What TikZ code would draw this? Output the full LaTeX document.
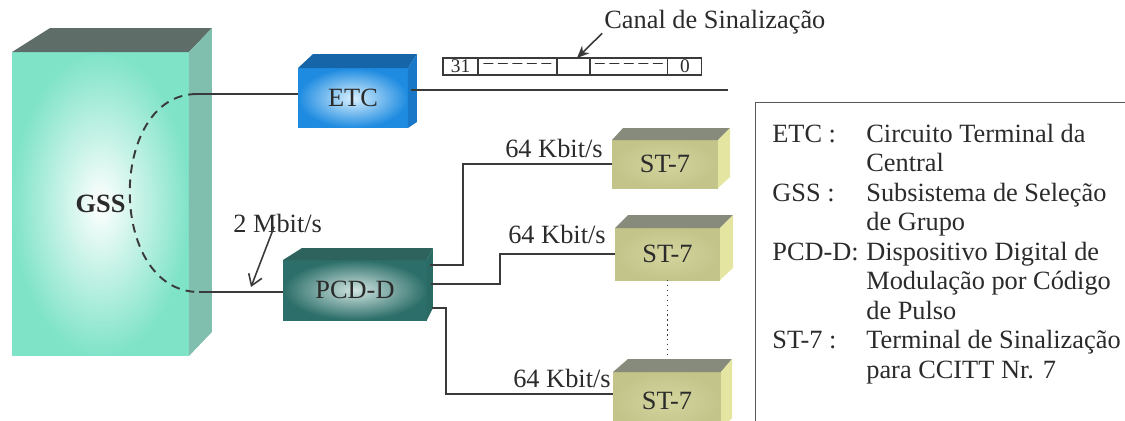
\documentclass[tikz,border=0pt]{standalone}
\usepackage{fontspec}
\setmainfont{Liberation Serif}
\usetikzlibrary{positioning,calc,arrows.meta}

\definecolor{ink}{HTML}{2B2B2B}
\definecolor{wirecol}{HTML}{3A3A3A}
\definecolor{gssFront}{HTML}{7FE3C8}
\definecolor{gssTop}{HTML}{5F6D69}
\definecolor{gssSide}{HTML}{80BFAE}
\definecolor{etcFront}{HTML}{1E8BE0}
\definecolor{etcGlow}{HTML}{D8F0FF}
\definecolor{etcTop}{HTML}{1565A8}
\definecolor{etcSide}{HTML}{1A78C8}
\definecolor{pcdFront}{HTML}{2C6E69}
\definecolor{pcdGlow}{HTML}{D0E4E0}
\definecolor{pcdTop}{HTML}{2E625D}
\definecolor{pcdSide}{HTML}{2A6A64}
\definecolor{stFront}{HTML}{C3C48A}
\definecolor{stGlow}{HTML}{D4D59E}
\definecolor{stTop}{HTML}{878B7B}
\definecolor{stSide}{HTML}{E4E5A0}

% top and side faces of a block: node, top-left shift, right shift, height, bottom shift
\newcommand{\boxfaces}[7]{%
  \fill[#6] (#1.north west) -- ++(#2,-#4) -- ($(#1.north east)+(#3,-#4)$) -- (#1.north east) -- cycle;
  \fill[#7] (#1.north east) -- ($(#1.north east)+(#3,-#4)$) -- ($(#1.south east)+(#3,-#5)$) -- (#1.south east) -- cycle;
}

\tikzset{
  face/.style={
    rectangle, inner sep=0pt, outer sep=0pt, text=ink, font=\fontsize{15}{18}\selectfont
  },
  gss face/.style={
    face, minimum width=3.54cm, minimum height=6.08cm,
    inner color=white, outer color=gssFront, font=\fontsize{15}{18}\selectfont\bfseries
  },
  etc face/.style={
    face, minimum width=2.2cm, minimum height=1.2cm, inner color=etcGlow, outer color=etcFront
  },
  pcd face/.style={
    face, minimum width=2.88cm, minimum height=1.2cm, inner color=pcdGlow, outer color=pcdFront
  },
  st face/.style={
    face, inner color=stGlow, outer color=stFront
  },
  wire/.style={draw=wirecol, line width=0.9pt},
  gss link/.style={draw=wirecol, line width=1.1pt, dash pattern=on 5pt off 3.5pt},
  slot/.style={
    rectangle, draw=wirecol, line width=0.6pt, inner sep=0pt, outer sep=0pt,
    minimum height=0.34cm, text=ink, font=\fontsize{11}{13}\selectfont
  },
  rate/.style={text=ink, inner sep=0pt, font=\fontsize{15}{18}\selectfont},
  key/.style={text=ink, inner sep=0pt, anchor=base west, font=\fontsize{15}{18}\selectfont}
}

\begin{document}
\begin{tikzpicture}[x=0.02cm, y=-0.02cm]
  \clip (0,0) rectangle (1125,420);

% ------------------------------------------------
% blocks
% ------------------------------------------------
  \node[gss face] (gss) at (100.5,204) {GSS};
  \boxfaces{gss}{38}{23}{24}{24}{gssTop}{gssSide}

  \node[etc face] (etc) at (353,98) {ETC};
  \boxfaces{etc}{15}{9}{14}{6}{etcTop}{etcSide}

  \node[pcd face] (pcd) at (355,290) {PCD-D};
  \boxfaces{pcd}{19}{6}{12}{12}{pcdTop}{pcdSide}

  \node[st face, minimum width=2.12cm, minimum height=0.96cm] (st1) at (665,164) {ST-7};
  \boxfaces{st1}{11}{12}{12}{11}{stTop}{stSide}
  \node[st face, minimum width=2.1cm, minimum height=1.04cm] (st2) at (667.5,254) {ST-7};
  \boxfaces{st2}{13}{13}{13}{12}{stTop}{stSide}
  \node[st face, minimum width=2.16cm, minimum height=1.16cm] (st3) at (667,401) {ST-7};
  \boxfaces{st3}{15}{11}{13}{12}{stTop}{stSide}

% ------------------------------------------------
% GSS to ETC / PCD-D
% ------------------------------------------------
  \coordinate (gA) at (197,94);
  \coordinate (gB) at (199,292);
  \draw[gss link] (gA) .. controls (107,94) and (107,292) .. (gB);
  \draw[wire] (gA) -- (gA -| etc.west);
  \draw[wire] (gB) -- (gB -| pcd.west);

  \node[rate, anchor=base west] (mbit) at (233,232) {2 Mbit/s};
  \coordinate (mbitTip) at (251,287);
  \draw[wire, -{Straight Barb[length=6pt,width=8pt]}]
    ([shift={(-2pt,3pt)}]mbit.base) -- (mbitTip);

% ------------------------------------------------
% frame on the ETC line
% ------------------------------------------------
  \coordinate (etcOut) at (411,90);
  \coordinate (sigEnd) at (728,90);
  \draw[wire] (etcOut) -- (sigEnd);

  \node[slot, minimum width=0.7cm] (f1) at (460.5,66.5) {31};
  \node[slot, minimum width=1.58cm, right=0pt of f1] (f2) {-- -- -- -- --};
  \node[slot, minimum width=0.66cm, right=0pt of f2] (f3) {};
  \node[slot, minimum width=1.56cm, right=0pt of f3] (f4) {-- -- -- -- --};
  \node[slot, minimum width=0.68cm, right=0pt of f4] (f5) {0};

  \node[rate, anchor=base west] (canal) at (604,28) {Canal de Sinalização};
  \draw[wire, -{Stealth[length=7pt,width=6pt]}]
    ([shift={(-1pt,-3pt)}]canal.base west) -- ([xshift=2pt]f3.north);

% ------------------------------------------------
% PCD-D to ST-7
% ------------------------------------------------
  \coordinate (p1) at (430,265);
  \coordinate (p2) at (431,284);
  \coordinate (p3) at (432,308);
  \draw[wire] (p1) -- ++(33,0) |- (st1.west);
  \draw[wire] (p2) -- ++(69,0) |- (st2.west);
  \draw[wire] (p3) -- ++(14,0) |- ([yshift=4pt]st3.west);
  \draw[wire, line width=0.8pt, dotted] (st2.south) -- ++(0,76);

  \node[rate, anchor=base east] (r1) at (603,157) {64 Kbit/s};
  \node[rate, anchor=base east] (r2) at (606,243) {64 Kbit/s};
  \node[rate, anchor=base east] (r3) at (611,387) {64 Kbit/s};

% ------------------------------------------------
% legend
% ------------------------------------------------
  \node[draw=gray!70!black, line width=0.6pt, anchor=north west, inner sep=0pt,
        minimum width=8cm, minimum height=7cm] (legend) at (755,102) {};

  \node[key] (kEtc) at (772,142) {ETC :};
  \node[key] (dEtcA) at (866,142) {Circuito Terminal da};
  \node[key] (dEtcB) at (866,171.5) {Central};
  \node[key] (kGss) at (772,201) {GSS :};
  \node[key] (dGssA) at (866,201) {Subsistema de Seleção};
  \node[key] (dGssB) at (866,230.5) {de Grupo};
  \node[key] (kPcd) at (772,260) {PCD-D:};
  \node[key] (dPcdA) at (866,260) {Dispositivo Digital de};
  \node[key] (dPcdB) at (866,289.5) {Modulação por Código};
  \node[key] (dPcdC) at (866,319) {de Pulso};
  \node[key] (kSt) at (772,348.5) {ST-7 :};
  \node[key] (dStA) at (866,348.5) {Terminal de Sinalização};
  \node[key] (dStB) at (866,378) {para CCITT Nr. 7};
\end{tikzpicture}
\end{document}
